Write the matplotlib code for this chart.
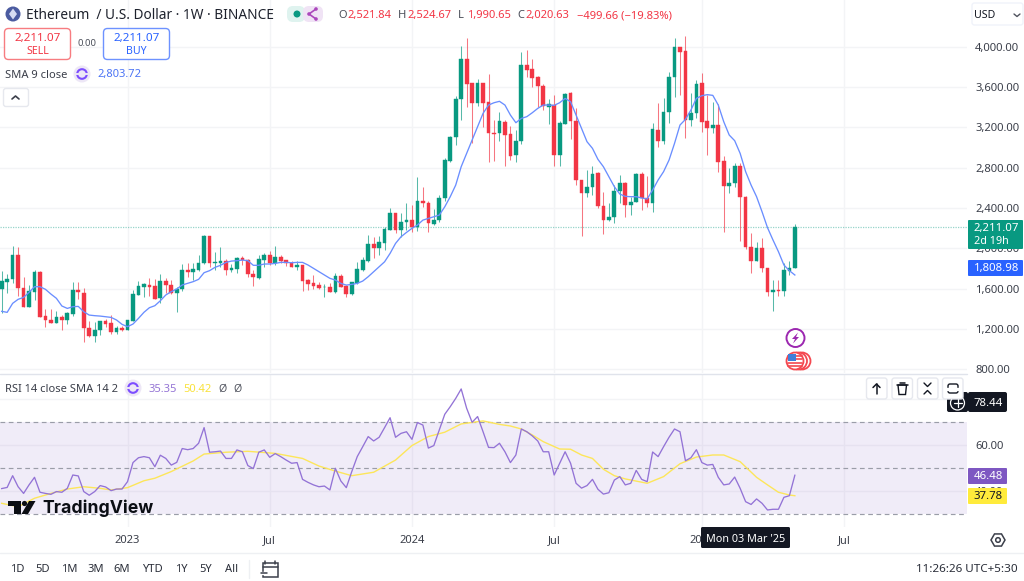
import numpy as np
import matplotlib
matplotlib.use("Agg")
import matplotlib.pyplot as plt
from matplotlib.patches import FancyBboxPatch, Rectangle, Circle, Polygon, RegularPolygon

plt.rcParams['font.family'] = ['Noto Sans', 'DejaVu Sans']

opens = [1594,1670,1696,1931,1610,1419,1571,1762,1329,1290,1263,1320,1293,1349,1587,1561,1211,1128,1187,1280,
         1257,1171,1214,1194,1283,1541,1620,1637,1623,1505,1676,1637,1554,1594,1782,1769,1785,1851,2119,1851,
         1858,1874,1785,1795,1904,1888,1749,1706,1888,1937,1851,1914,1884,1858,1815,1835,1686,1653,1633,1614,
         1617,1567,1725,1630,1547,1653,1785,1877,2039,2000,2056,2181,2350,2181,2257,2277,2211,2465,2452,2241,
         2277,2495,2869,3100,3480,3876,3635,3444,3635,3450,3143,3140,3248,3130,2921,3060,3817,3774,3701,3612,
         3404,3424,2921,3232,3536,3265,2677,2545,2604,2743,2420,2284,2307,2565,2651,2433,2459,2737,2499,2446,
         3173,3060,3348,3701,3998,3955,3272,3344,3635,3262,3189,3222,2862,2621,2651,2816,2512,2010,1878,2000,
         1805,1567,1587,1577,1775,1808]
highs = [1775,1746,2023,2010,1719,1637,1785,1775,1396,1396,1379,1336,1372,1670,1670,1604,1283,1273,1280,1296,
         1339,1230,1230,1290,1587,1676,1653,1703,1693,1742,1703,1686,1620,1841,1851,1851,1931,2132,2122,1960,
         2016,1891,1845,1917,1924,1894,1785,1934,1957,1974,2023,1931,1884,1871,1871,1838,1699,1739,1663,1643,
         1656,1752,1742,1636,1669,1867,1910,2132,2109,2122,2214,2403,2350,2346,2446,2429,2710,2611,2469,2386,
         2528,2892,3113,3513,4005,4084,3635,3675,3635,3724,3272,3347,3272,3212,3173,3942,3965,3873,3708,3625,
         3476,3516,3265,3536,3552,3391,2677,2776,2816,2753,2558,2446,2627,2723,2657,2512,2743,2760,2717,3245,
         3437,3486,3744,4081,4000,4104,3536,3668,3734,3519,3453,3430,2915,2793,2842,2842,2519,2149,2066,2099,
         1805,1686,1686,1851,1878,2241]
lows = [1356,1554,1660,1528,1415,1415,1488,1323,1224,1257,1263,1194,1250,1329,1498,1069,1125,1072,1141,1224,
        1151,1151,1178,1191,1283,1538,1521,1528,1495,1462,1554,1547,1366,1574,1713,1686,1775,1845,1818,1785,
        1812,1736,1765,1759,1835,1713,1627,1699,1818,1838,1835,1858,1825,1812,1785,1577,1587,1594,1597,1521,
        1567,1561,1613,1521,1540,1646,1778,1864,1901,1934,1983,2181,2148,2115,2181,2165,2171,2406,2165,2231,
        2261,2472,2856,3027,3272,3404,3047,3410,3206,2856,2862,3067,2816,2875,2859,3034,3694,3602,3404,3371,
        3232,2819,2819,3232,3080,2628,2126,2505,2532,2403,2145,2274,2251,2446,2307,2330,2459,2380,2406,2357,
        3007,3034,3245,3503,3519,3090,3216,3288,3156,2925,3140,2760,2159,2545,2604,2076,1990,1759,1878,1769,
        1531,1382,1531,1531,1732,1808]
closes = [1676,1699,1931,1610,1419,1577,1762,1323,1290,1263,1320,1293,1356,1587,1564,1207,1128,1191,1280,1253,
          1168,1214,1194,1287,1544,1623,1643,1620,1501,1676,1633,1554,1600,1782,1765,1792,1858,2119,1851,1865,
          1878,1785,1802,1908,1881,1742,1713,1894,1937,1851,1914,1878,1851,1815,1835,1680,1647,1627,1604,1620,
          1571,1726,1620,1547,1663,1792,1884,2039,2006,2059,2188,2350,2181,2261,2277,2211,2465,2446,2251,2284,
          2502,2875,3106,3483,3876,3628,3444,3635,3444,3146,3136,3258,3123,2915,3064,3817,3767,3691,3609,3407,
          3430,2921,3239,3529,3265,2677,2545,2604,2737,2416,2284,2311,2571,2651,2433,2462,2737,2499,2446,3179,
          3064,3354,3701,3998,3942,3272,3344,3628,3255,3196,3222,2859,2621,2651,2812,2512,2010,1878,2003,1805,
          1567,1587,1577,1785,1802,2211]
sma9 = [1376,1366,1455,1495,1514,1564,1620,1620,1594,1547,1505,1429,1405,1422,1425,1372,1339,1333,1329,1323,
        1316,1290,1247,1224,1250,1306,1366,1412,1432,1481,1538,1571,1597,1637,1653,1670,1693,1759,1779,1812,
        1832,1861,1874,1878,1884,1878,1832,1832,1845,1845,1851,1861,1861,1858,1861,1861,1835,1802,1769,1736,
        1703,1686,1653,1636,1643,1653,1676,1719,1768,1818,1867,1950,2049,2115,2158,2198,2231,2280,2297,2313,
        2330,2412,2512,2627,2809,2941,3073,3206,3338,3420,3443,3457,3420,3321,3245,3288,3305,3344,3387,3420,
        3420,3417,3443,3486,3453,3321,3189,3057,2991,2882,2809,2710,2611,2538,2515,2512,2512,2499,2489,2578,
        2677,2760,2875,3040,3222,3278,3371,3486,3513,3523,3516,3420,3255,3123,3067,2941,2760,2627,2512,2363,
        2205,2083,1967,1835,1779,1736]
rsi = [41.2,41.7,46.8,42.0,39.1,42.8,46.1,39.6,39.1,38.7,39.9,39.6,41.3,47.1,46.7,39.9,38.3,39.9,42.5,41.9,
       40.3,41.0,41.0,44.2,52.5,54.6,55.1,54.6,50.7,55.7,54.3,51.4,52.6,58.6,58.1,58.6,60.9,67.7,57.0,57.2,
       57.5,54.3,54.3,58.0,57.2,51.2,49.9,57.0,58.0,54.8,56.4,55.1,53.6,52.2,52.5,45.2,43.9,42.8,42.0,42.3,
       40.6,50.0,44.5,41.6,48.6,55.1,59.4,63.8,61.9,63.5,67.7,72.0,63.5,65.2,65.9,62.6,69.9,68.8,58.8,59.9,
       66.7,73.5,76.8,80.4,84.5,76.1,70.0,72.5,65.9,59.1,59.0,60.9,57.2,52.5,55.8,67.1,65.9,64.1,61.9,57.2,
       57.2,47.1,52.2,57.2,52.2,43.5,41.4,42.5,45.2,40.9,38.8,39.4,44.9,46.4,42.8,43.5,49.1,45.2,44.2,57.1,
       55.1,59.4,63.5,67.1,65.9,53.3,54.6,58.1,52.5,51.4,51.7,46.1,42.8,43.2,46.2,41.3,35.5,34.3,36.7,34.8,
       31.9,32.2,32.2,37.4,38.1,47.0]
rsi_ma_weeks = [0,3,6,9,12,15,18,20,23,26,28,31,35,37,41,45,50,55,58,61,64,68,72,75,78,81,84,88,91,93,95,97,99,
                102,104,106,108,110,112,114,118,121,124,127,130,132,135,138,140,142,144,145]
rsi_ma = [34.8,33.3,37.0,39.1,41.0,42.0,41.3,40.6,41.6,44.6,45.7,48.6,53.2,56.2,57.0,57.4,56.5,54.3,51.0,48.8,46.8,
          48.3,53.6,59.9,63.8,65.7,69.3,70.6,69.1,68.4,67.1,64.5,61.6,58.4,58.3,55.8,54.3,49.6,46.8,45.4,43.5,
          46.4,52.0,54.9,55.8,55.8,52.9,46.1,42.8,39.6,38.4,38.1]

price_ticks = [800,1200,1600,2000,2400,2800,3200,3600,4000]
rsi_ticks = [40,60]
rsi_grid_extra = [80]
time_tick_weeks = [23,49,75,101,128,154]
time_tick_labels = ['2023','Jul','2024','Jul','2025','Jul']
last_price = 2211.07

GREEN, RED, BLUE = '#089981', '#F23645', '#2962FF'
PURPLE, YELLOW, DARK, GRID = '#7E57C2', '#FFEB3B', '#131722', '#F3F4F6'
W, H = 1024, 581

fig = plt.figure(figsize=(W/100, H/100), dpi=100, facecolor='white')
def rect(l, t, r, b):
    return [l/W, 1-b/H, (r-l)/W, (b-t)/H]

ax = fig.add_axes(rect(0, 0, 967, 373))
rs = fig.add_axes(rect(0, 374, 967, 527))
xlim = (-0.31, 176.47)
x = np.arange(len(closes))
o, hi, lo, c = map(np.array, (opens, highs, lows, closes))
col = np.where(c >= o, GREEN, RED)

ax.set_xlim(*xlim); ax.set_ylim(765, 4461)
ax.vlines(x, lo, hi, colors=col, lw=0.75, alpha=0.68, zorder=3)
ax.bar(x, np.abs(c-o), bottom=np.minimum(o, c), width=0.68, color=col, edgecolor=col, lw=0.3, zorder=4)
ax.plot(x, sma9, color='#6A8EFF', lw=0.95, zorder=5)
ax.axhline(last_price, color=GREEN, lw=0.9, ls=(0, (1, 1)), alpha=0.42, zorder=2)
ax.set_yticks(price_ticks)
ax.set_yticklabels([f'{p:,.2f}' for p in price_ticks], fontsize=8.1, color='#3B3F4A')
ax.yaxis.tick_right()
ax.tick_params(axis='y', length=0, pad=5.8)
ax.set_xticks(time_tick_weeks); ax.tick_params(axis='x', length=0, labelbottom=False)

rs.set_xlim(*xlim); rs.set_ylim(24.5, 91)
rs.axhspan(30, 70, color=PURPLE, alpha=0.11, lw=0, zorder=1)
for lv in (70, 50, 30):
    rs.axhline(lv, color='#9A9DA8', lw=0.85, ls=(0, (4, 3)), zorder=2)
for lv in rsi_grid_extra:
    rs.axhline(lv, color=GRID, lw=1, zorder=0.5)
rs.plot(x, rsi, color='#9373D6', lw=0.95, zorder=4)
rs.plot(rsi_ma_weeks, rsi_ma, color='#FDE65A', lw=1.0, zorder=3)
rs.set_yticks(rsi_ticks); rs.set_yticklabels([f'{t:.2f}' for t in rsi_ticks], fontsize=8.1, color='#3B3F4A')
rs.yaxis.tick_right()
rs.tick_params(axis='y', length=0, pad=5.8)
rs.set_xticks(time_tick_weeks)
rs.set_xticklabels(time_tick_labels, fontsize=8, color='#3B3F4A')
rs.tick_params(axis='x', length=0, pad=6)
for lab in rs.get_xticklabels():
    if lab.get_text().isdigit():
        lab.set_fontweight('bold')

for a in (ax, rs):
    a.set_axisbelow(True)
    a.grid(True, color=GRID, lw=1)
    a.patch.set_alpha(0)
    for s in a.spines.values():
        s.set_visible(False)

ov = fig.add_axes([0, 0, 1, 1], zorder=20)
ov.set_xlim(0, W); ov.set_ylim(H, 0); ov.axis('off'); ov.patch.set_alpha(0)

def T(px, py, s, size=8, color=DARK, ha='left', va='center', weight='normal', **kw):
    return ov.text(px, py, s, fontsize=size, color=color, ha=ha, va=va, fontweight=weight, **kw)
def box(l, t, r, b, fc='white', ec='none', rad=2.5, lw=1, z=2):
    ov.add_patch(FancyBboxPatch((l+rad, t+rad), r-l-2*rad, b-t-2*rad, boxstyle=f'round,pad={rad},rounding_size={rad}',
                                fc=fc, ec=ec, lw=lw, zorder=z))
def L(xs, ys, color=DARK, lw=1, z=5):
    ov.plot(xs, ys, color=color, lw=lw, zorder=z, solid_capstyle='round')

# separators
L([0, 967], [373.5, 373.5], '#E0E3EB', 1)
L([0, W], [552.5, 552.5], '#EEF0F3', 1)
L([249, 249], [560, 578], '#EEF0F3', 1)

# header
ov.add_patch(Circle((13, 14), 7.5, fc='#4B5BA0', ec='none'))
ov.add_patch(Polygon([(13, 8.5), (17, 14), (13, 19.5), (9, 14)], fc='#D7DCF2', ec='none', zorder=4))
T(25.5, 15.5, 'Ethereum  / U.S. Dollar · 1W · BINANCE', 9.85, '#1E222D')
box(287, 6, 305, 22, fc='#DFF3EF', rad=6)
box(303, 6, 323, 22, fc='#F0E3F5', rad=6)
ov.add_patch(Circle((297, 14), 3.5, fc=GREEN, ec='none', zorder=4))
L([316, 309, 316], [9, 14, 19], '#AB47BC', 1.2)
for q in [(316, 9), (309, 14), (316, 19)]:
    ov.add_patch(Circle(q, 1.8, fc='#AB47BC', ec='none', zorder=6))
for px, key, val, off in [(338, 'O', '2,521.84', 9), (398, 'H', '2,524.67', 9), (458, 'L', '1,990.65', 9), (517, 'C', '2,020.63', 8.5)]:
    T(px, 15.5, key, 8, '#4A4E59', weight='medium')
    T(px + off, 15.5, val, 8, RED)
T(577, 15.5, '−499.66 (−19.83%)', 8.1, RED)

# USD
box(972, 3, 1023, 25, fc='white', ec='#F0F3FA')
T(974, 15.5, 'USD', 7.6, '#131722', weight='medium')
L([1014, 1017, 1020], [14, 16.5, 14], '#50535E', 1)

# buy / sell
box(4.5, 28.5, 70.5, 59.5, fc='white', ec='#F77C80', rad=4)
T(37.5, 39, '2,211.07', 8.4, RED, ha='center', weight='medium')
T(37.5, 51.5, 'SELL', 7.6, RED, ha='center')
T(87, 44, '0.00', 6.8, '#4A4E59', ha='center')
box(103.5, 28.5, 169.5, 59.5, fc='white', ec='#6D92FF', rad=4)
T(136.5, 39, '2,211.07', 8.4, BLUE, ha='center', weight='medium')
T(136.5, 51.5, 'BUY', 7.6, BLUE, ha='center')

def refresh(cx, cy):
    ov.add_patch(Circle((cx, cy), 8.5, fc='#EDE7F6', ec='none', zorder=3))
    ov.add_patch(Circle((cx, cy), 4.8, fc='none', ec='#7C4DFF', lw=1.5, zorder=4))
    L([cx-7, cx+7], [cy, cy], '#EDE7F6', 1.4, z=5)

T(5, 75, 'SMA 9 close', 8, '#3B3F4A')
refresh(82, 74)
T(97.5, 75, '2,803.72', 8, '#4C74F5')
box(3.5, 88.5, 28.5, 106.5, fc='white', ec='#E6E8EE')
L([12, 15.5, 19], [99, 96, 99], '#3B3F4A', 1.2)

# last-price labels
box(968, 220, 1023, 249, fc=GREEN, rad=1)
T(1019, 228, '2,211.07', 8.2, 'white', ha='right', weight='medium')
T(1009, 241.5, '2d 19h', 7.8, 'white', ha='right')
box(968, 260, 1023, 276, fc=BLUE, rad=1)
T(1019, 268.5, '1,808.98', 8.2, 'white', ha='right', weight='medium')

# events
ov.add_patch(Circle((795.5, 338), 9, fc='white', ec='#9C27B0', lw=1.4, zorder=4))
ov.add_patch(Polygon([(798, 332.5), (792, 339), (795, 339), (793, 343.5), (799, 337), (796, 337)], fc='#9C27B0', ec='none', zorder=5))
for cx in (802, 798.5, 795):
    ov.add_patch(Circle((cx, 361), 8.5, fc='white', ec='#F44850', lw=1.3, zorder=4))
for sy in (355.5, 359, 362.5, 366):
    L([788, 802], [sy, sy], '#F44850', 1.2, z=5)
ov.add_patch(Rectangle((788, 353.5), 8, 7, fc='#3F7FD9', ec='none', zorder=6))

# RSI header
T(5, 389, 'RSI 14 close SMA 14 2', 8, '#3B3F4A')
refresh(133, 388)
T(148.5, 389, '35.35', 8, '#9575D5')
T(183, 389, '50.42', 8, '#F9E23C')
T(218, 389, 'Ø', 7.6, '#50535E')
T(233, 389, 'Ø', 7.6, '#50535E')

# pane buttons
for l in (866, 891.5, 917, 942):
    box(l+.5, 378, l+21, 399, fc='white', ec='#E6E8EE', z=6)
L([876.5, 876.5], [384, 394], DARK, 1.1, z=7)
L([873, 876.5, 880], [387.5, 384, 387.5], DARK, 1.1, z=7)
ov.add_patch(Polygon([(898, 385), (906.5, 385), (905.5, 394.5), (899, 394.5)], fc='none', ec=DARK, lw=1, zorder=7))
L([896.5, 908], [384.5, 384.5], DARK, 1.1, z=7)
L([900, 904.5], [382.5, 382.5], DARK, 1.1, z=7)
L([924, 927.5, 931], [383, 386.5, 383], DARK, 1, z=7)
L([924, 927.5, 931], [394, 390.5, 394], DARK, 1, z=7)
box(948, 384, 958, 393, fc='none', ec=DARK, rad=2, z=7)
L([946, 960], [388.5, 388.5], 'white', 2.4, z=8)

box(947, 392, 968, 412, fc=DARK, rad=2, z=3)
ov.add_patch(Circle((957.5, 403), 7, fc='none', ec='white', lw=0.9, zorder=4))
L([953.5, 961.5], [403, 403], 'white', 0.9)
L([957.5, 957.5], [399, 407], 'white', 0.9)
box(968, 392, 1007, 412, fc=DARK, rad=2, z=3)
T(1003, 403, '78.44', 8.2, 'white', ha='right', weight='medium', zorder=5)
box(968, 468, 1007, 484, fc=PURPLE, rad=1, z=3)
T(1003, 476.5, '46.48', 8.2, 'white', ha='right', weight='medium', zorder=5)
box(968, 488, 1007, 504, fc=YELLOW, rad=1, z=3)
T(1003, 496.5, '37.78', 8.2, DARK, ha='right', weight='medium', zorder=5)

# TradingView logo
ov.add_patch(Polygon([(8, 501), (21, 501), (21, 514), (14, 514), (14, 506), (8, 506)], fc='#0B0E14', ec='none', zorder=6))
ov.add_patch(Circle((24.5, 503.5), 2.6, fc='#0B0E14', ec='none', zorder=6))
ov.add_patch(Polygon([(29, 501), (35.5, 501), (28, 514), (21.5, 514)], fc='#0B0E14', ec='none', zorder=6))
T(42.5, 508.5, 'TradingView', 12.7, '#0B0E14', weight='bold', zorder=6, family=['Inter', 'Noto Sans'])

# bottom axis extras
box(701, 527, 790, 548, fc=DARK, rad=1.5, z=3)
T(745.5, 540, "Mon 03 Mar '25", 7.8, 'white', ha='center', zorder=5)
ov.add_patch(RegularPolygon((998, 540), 6, radius=7, fc='none', ec='#3B3F4A', lw=1.1, zorder=5, orientation=np.pi/6))
ov.add_patch(Circle((998, 540), 2.3, fc='none', ec='#3B3F4A', lw=1.1, zorder=5))

# range buttons
for px, s in [(17.5, '1D'), (42.5, '5D'), (69, '1M'), (95.5, '3M'), (122, '6M'), (152, 'YTD'), (181.5, '1Y'),
              (206, '5Y'), (232, 'All')]:
    T(px, 569.5, s, 8, '#2A2E39', ha='center')
ov.add_patch(Rectangle((262.5, 563), 15, 14, fc='none', ec='#3B3F4A', lw=1.1, zorder=5))
L([262.5, 277.5], [566.5, 566.5], '#3B3F4A', 1.1)
L([265, 265], [561, 564], '#3B3F4A', 1.1)
L([275, 275], [561, 564], '#3B3F4A', 1.1)
L([261, 267], [573, 573], 'white', 2.4, z=6)
L([261, 267], [573, 573], '#3B3F4A', 1.1, z=7)
T(1018, 569.5, '11:26:26 UTC+5:30', 8.4, '#2A2E39', ha='right')

fig.savefig('out.png', dpi=100)
